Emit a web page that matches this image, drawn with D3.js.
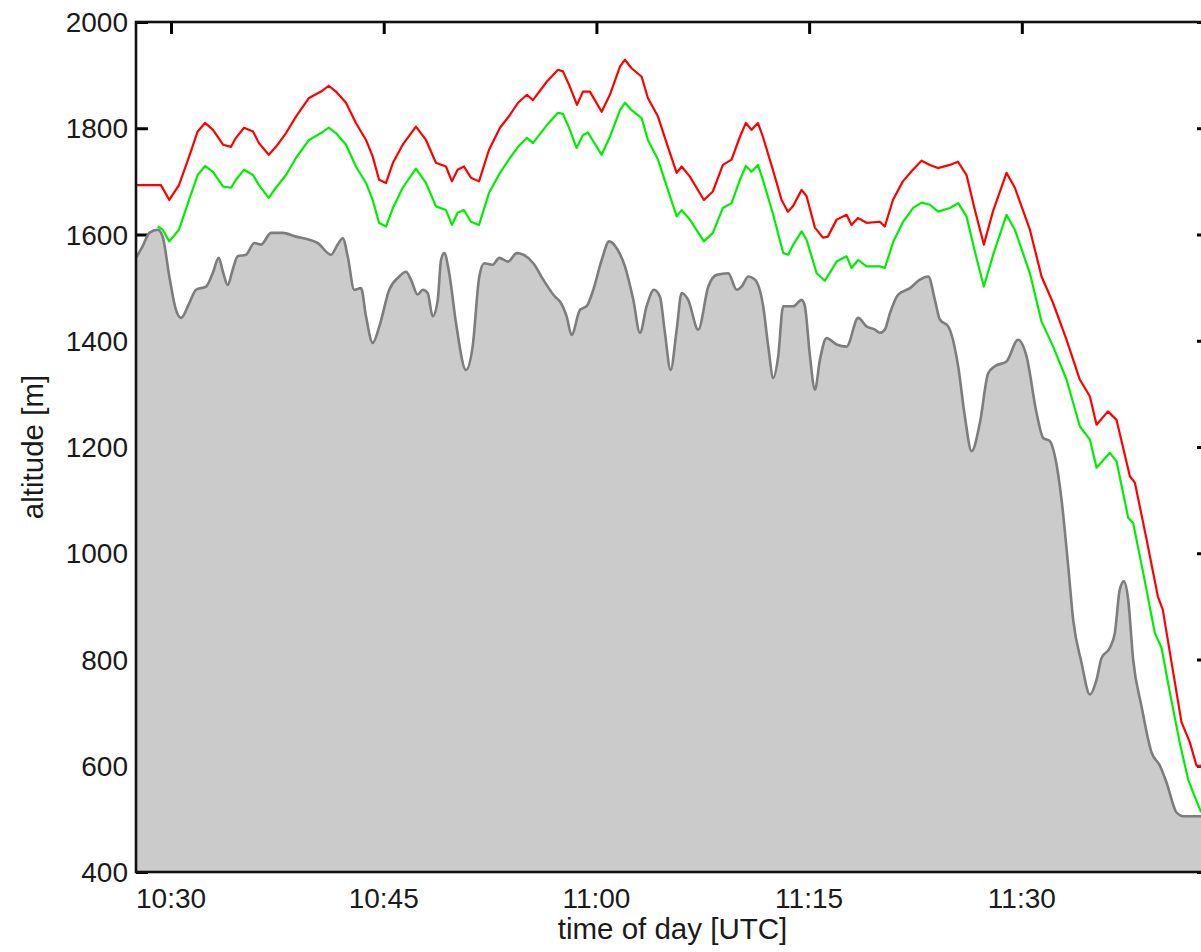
<!DOCTYPE html>
<html>
<head>
<meta charset="utf-8">
<script src="https://cdn.jsdelivr.net/npm/d3@7"></script>
<style>
  html, body { margin: 0; padding: 0; background: #fff; }
  svg { display: block; }
  text { font-family: "Liberation Sans", Arial, sans-serif; fill: #1a1a1a; }
</style>
</head>
<body>
<svg id="chart" width="1201" height="952"></svg>
<script>
// time in minutes after 10:00 UTC, altitude in metres
const xTicks = [30, 45, 60, 75, 90];
const xTickLabels = ["10:30", "10:45", "11:00", "11:15", "11:30"];
const yTicks = [400, 600, 800, 1000, 1200, 1400, 1600, 1800, 2000];
const xDomain = [27.53, 103.2];
const yDomain = [400, 2000];

const redAltitude = [
  [27.53,1693],[29.29,1693],[29.88,1665],[30.56,1693],[31.27,1746],[31.88,1794],[32.40,1810],[32.96,1797],
  [33.67,1769],[34.23,1765],[34.58,1782],[35.15,1801],[35.78,1794],[36.20,1772],[36.89,1750],[37.40,1765],
  [38.11,1791],[38.81,1822],[39.73,1857],[40.58,1869],[41.12,1880],[41.63,1869],[42.34,1848],[43.04,1810],
  [43.75,1778],[44.22,1747],[44.67,1703],[45.16,1697],[45.65,1735],[46.34,1769],[47.27,1803],[47.98,1778],
  [48.68,1735],[49.39,1728],[49.81,1700],[50.21,1722],[50.66,1728],[51.15,1707],[51.72,1700],[52.42,1759],
  [53.20,1801],[53.90,1825],[54.47,1848],[55.10,1863],[55.52,1853],[56.51,1888],[57.29,1910],[57.64,1907],
  [58.13,1878],[58.63,1844],[59.05,1869],[59.54,1869],[60.37,1831],[60.95,1863],[61.66,1916],[62.01,1929],
  [62.48,1913],[63.19,1897],[63.63,1857],[64.34,1822],[65.04,1765],[65.66,1716],[66.01,1728],[66.59,1709],
  [67.58,1665],[68.21,1681],[68.92,1731],[69.53,1741],[70.12,1784],[70.54,1810],[70.94,1797],[71.39,1810],
  [71.74,1784],[72.44,1722],[73.06,1665],[73.50,1643],[73.86,1653],[74.47,1684],[74.82,1672],[75.41,1613],
  [75.97,1594],[76.32,1596],[76.94,1628],[77.64,1637],[77.99,1618],[78.44,1631],[79.05,1622],[79.99,1624],
  [80.34,1615],[80.91,1665],[81.61,1700],[82.32,1722],[82.93,1739],[83.52,1731],[84.08,1725],[84.93,1731],
  [85.49,1737],[86.10,1712],[86.69,1646],[87.32,1581],[87.96,1643],[88.92,1716],[89.51,1688],[90.57,1609],
  [91.39,1521],[92.19,1472],[93.15,1402],[94.09,1327],[94.80,1295],[95.27,1242],[96.07,1267],[96.68,1251],
  [97.62,1145],[97.97,1133],[98.80,1026],[99.59,919],[99.94,894],[100.56,794],[101.26,682],[101.85,644],
  [102.32,600],[103.2,598]
];

const greenAltitude = [
  [29.06,1615],[29.41,1609],[29.88,1587],[30.56,1609],[31.27,1665],[31.88,1712],[32.40,1729],[32.96,1718],
  [33.67,1690],[34.23,1688],[34.58,1703],[35.15,1722],[35.78,1712],[36.20,1693],[36.89,1669],[37.40,1688],
  [38.11,1712],[38.81,1744],[39.73,1778],[40.58,1791],[41.12,1801],[41.63,1791],[42.34,1769],[43.04,1728],
  [43.75,1697],[44.22,1665],[44.67,1622],[45.16,1615],[45.65,1650],[46.34,1688],[47.27,1724],[47.98,1697],
  [48.68,1653],[49.39,1646],[49.81,1618],[50.21,1641],[50.66,1646],[51.15,1624],[51.72,1618],[52.42,1678],
  [53.20,1716],[53.90,1744],[54.47,1765],[55.10,1782],[55.52,1772],[56.51,1806],[57.29,1829],[57.64,1827],
  [58.13,1797],[58.60,1763],[59.05,1787],[59.40,1792],[60.37,1750],[60.95,1784],[61.66,1834],[62.01,1848],
  [62.48,1834],[63.19,1819],[63.63,1778],[64.34,1741],[65.04,1684],[65.66,1634],[66.01,1646],[66.59,1628],
  [67.58,1587],[68.21,1603],[68.92,1650],[69.53,1659],[70.12,1703],[70.54,1729],[70.94,1718],[71.39,1731],
  [71.74,1703],[72.44,1640],[73.17,1565],[73.53,1562],[73.88,1581],[74.47,1606],[74.82,1590],[75.53,1527],
  [76.11,1513],[76.94,1549],[77.64,1559],[77.99,1537],[78.46,1552],[79.05,1540],[79.99,1540],[80.34,1537],
  [80.94,1587],[81.63,1624],[82.34,1650],[82.93,1660],[83.52,1656],[84.10,1643],[84.93,1650],[85.51,1659],
  [86.10,1634],[86.69,1568],[87.32,1502],[87.98,1562],[88.92,1637],[89.51,1609],[90.57,1527],[91.39,1436],
  [92.21,1389],[93.15,1327],[94.09,1239],[94.80,1214],[95.27,1161],[96.21,1189],[96.68,1173],[97.50,1067],
  [97.85,1057],[98.56,963],[99.38,850],[99.85,822],[100.44,738],[101.14,643],[101.73,574],[102.13,546],
  [102.62,514],[103.2,508]
];

const terrainAltitude = [
  [27.53,1556],[28.00,1578],[28.47,1603],[29.06,1609],[29.41,1596],[29.88,1521],[30.35,1458],[30.71,1443],
  [31.29,1471],[31.76,1496],[32.47,1502],[32.94,1527],[33.36,1556],[33.69,1527],[34.00,1505],[34.35,1534],
  [34.70,1559],[35.29,1562],[35.87,1584],[36.35,1581],[37.05,1603],[37.88,1603],[38.81,1596],[39.75,1590],
  [40.34,1584],[41.28,1562],[41.75,1581],[42.11,1593],[42.46,1559],[42.92,1496],[43.40,1499],[43.75,1446],
  [44.22,1396],[44.69,1427],[45.39,1496],[46.10,1521],[46.57,1530],[46.92,1515],[47.39,1487],[47.75,1496],
  [48.10,1490],[48.45,1446],[48.81,1477],[49.04,1552],[49.27,1565],[49.62,1527],[50.10,1433],[50.80,1345],
  [51.27,1389],[51.74,1521],[52.09,1546],[52.68,1543],[53.15,1556],[53.78,1549],[54.38,1565],[54.84,1562],
  [55.55,1546],[56.25,1515],[57.08,1483],[57.43,1474],[57.90,1446],[58.25,1411],[58.84,1458],[59.31,1465],
  [59.78,1496],[60.37,1552],[60.90,1587],[61.43,1574],[62.01,1540],[62.60,1477],[63.07,1415],[63.54,1465],
  [64.06,1496],[64.48,1483],[64.83,1415],[65.23,1345],[65.66,1421],[66.01,1490],[66.47,1477],[67.18,1421],
  [67.89,1502],[68.48,1524],[69.30,1527],[69.89,1496],[70.24,1502],[70.71,1521],[71.18,1515],[71.76,1465],
  [72.12,1389],[72.47,1330],[72.82,1371],[73.17,1465],[73.88,1465],[74.47,1477],[74.70,1465],[75.06,1371],
  [75.41,1308],[75.76,1364],[76.23,1405],[76.94,1393],[77.64,1389],[78.46,1443],[79.05,1427],[79.64,1421],
  [79.99,1415],[80.34,1421],[80.70,1452],[81.28,1487],[82.11,1499],[82.81,1515],[83.40,1521],[83.87,1477],
  [84.22,1440],[84.81,1427],[85.51,1352],[85.98,1258],[86.46,1192],[87.04,1245],[87.63,1339],[88.10,1352],
  [88.92,1361],[89.74,1402],[90.33,1371],[91.04,1264],[91.51,1217],[91.98,1211],[92.33,1183],[92.80,1101],
  [93.27,976],[93.62,875],[94.21,794],[94.80,734],[95.27,762],[95.62,803],[96.21,822],[96.56,850],
  [96.91,932],[97.20,947],[97.50,913],[97.85,800],[98.44,712],[99.15,625],[99.74,600],[100.21,568],
  [100.91,512],[101.38,505],[102.62,505],[103.2,505]
];

const xTitle = "time of day [UTC]";
const yTitle = "altitude [m]";

(function draw() {
  const svg = d3.select("#chart");
  const mLeft = 136, mRight = 1209, mTop = 22, mBottom = 872;

  const x = d3.scaleLinear().domain(xDomain).range([mLeft, mRight]);
  const y = d3.scaleLinear().domain(yDomain).range([mBottom, mTop]);

  const tickLen = 12;
  const tickStroke = 3;

  // inward ticks (drawn beneath the terrain area)
  const ticksG = svg.append("g");
  ticksG.append("g").attr("transform", `translate(0,${mTop})`)
    .call(d3.axisBottom(x).tickValues(xTicks).tickSize(tickLen).tickFormat(""))
    .call(g => g.select(".domain").remove());
  ticksG.append("g").attr("transform", `translate(0,${mBottom})`)
    .call(d3.axisTop(x).tickValues(xTicks).tickSize(tickLen).tickFormat(""))
    .call(g => g.select(".domain").remove());
  ticksG.append("g").attr("transform", `translate(${mLeft},0)`)
    .call(d3.axisRight(y).tickValues(yTicks).tickSize(tickLen).tickFormat(""))
    .call(g => g.select(".domain").remove());
  ticksG.append("g").attr("transform", `translate(${mRight},0)`)
    .call(d3.axisLeft(y).tickValues(yTicks).tickSize(tickLen).tickFormat(""))
    .call(g => g.select(".domain").remove());
  ticksG.selectAll(".tick line").attr("stroke", "#000").attr("stroke-width", tickStroke);

  // terrain area (smooth)
  const area = d3.area()
    .curve(d3.curveMonotoneX)
    .x(d => x(d[0]))
    .y0(y(yDomain[0]))
    .y1(d => y(d[1]));
  svg.append("path")
    .datum(terrainAltitude)
    .attr("d", area)
    .attr("fill", "#cbcbcb")
    .attr("stroke", "none");

  const terrainLine = d3.line().curve(d3.curveMonotoneX).x(d => x(d[0])).y(d => y(d[1]));
  const line = d3.line().x(d => x(d[0])).y(d => y(d[1]));

  svg.append("path")
    .datum(terrainAltitude)
    .attr("d", terrainLine)
    .attr("fill", "none")
    .attr("stroke", "#7d7d7d")
    .attr("stroke-width", 2.6)
    .attr("stroke-linejoin", "round");

  svg.append("path")
    .datum(greenAltitude)
    .attr("d", line)
    .attr("fill", "none")
    .attr("stroke", "#00ee00")
    .attr("stroke-width", 2.2)
    .attr("stroke-linejoin", "round");

  svg.append("path")
    .datum(redAltitude)
    .attr("d", line)
    .attr("fill", "none")
    .attr("stroke", "#ff0000")
    .attr("stroke-width", 2.2)
    .attr("stroke-linejoin", "round");

  // frame
  svg.append("rect")
    .attr("x", mLeft).attr("y", mTop)
    .attr("width", mRight - mLeft).attr("height", mBottom - mTop)
    .attr("fill", "none")
    .attr("stroke", "#111")
    .attr("stroke-width", 2.6);

  // tick labels
  svg.append("g").selectAll("text")
    .data(yTicks)
    .join("text")
    .attr("x", mLeft - 8)
    .attr("y", d => y(d) + 10)
    .attr("text-anchor", "end")
    .attr("font-size", 28)
    .text(d => d);

  svg.append("g").selectAll("text")
    .data(xTicks)
    .join("text")
    .attr("x", d => x(d))
    .attr("y", 908)
    .attr("text-anchor", "middle")
    .attr("font-size", 28)
    .text((d, i) => xTickLabels[i]);

  // axis titles
  svg.append("text")
    .attr("x", (mLeft + mRight) / 2)
    .attr("y", 939)
    .attr("text-anchor", "middle")
    .attr("font-size", 29.5)
    .text(xTitle);

  svg.append("text")
    .attr("transform", `translate(43,${(mTop + mBottom) / 2}) rotate(-90)`)
    .attr("text-anchor", "middle")
    .attr("font-size", 29.5)
    .text(yTitle);
})();
</script>
</body>
</html>
